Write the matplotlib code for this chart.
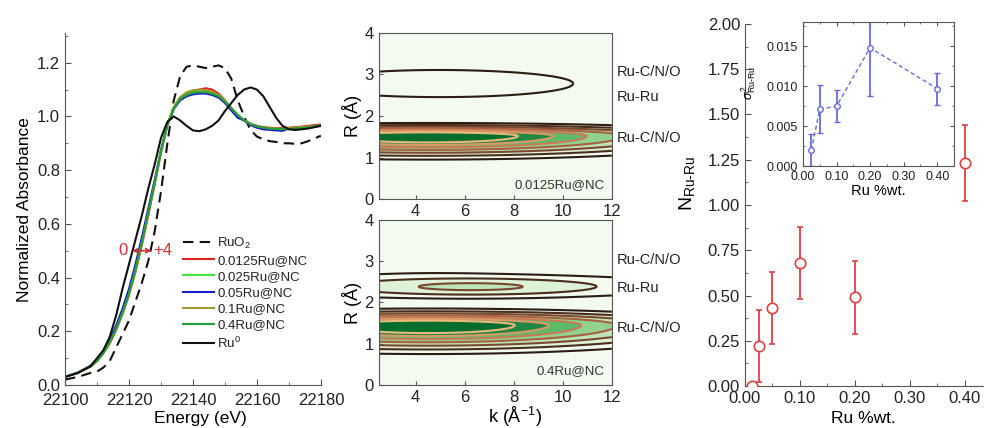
import numpy as np
import matplotlib.pyplot as plt
from matplotlib.ticker import MultipleLocator, FormatStrFormatter
from matplotlib.colors import ListedColormap

plt.rcParams['font.family'] = ['Liberation Sans', 'DejaVu Sans']
plt.rcParams['mathtext.fontset'] = 'custom'
plt.rcParams['mathtext.rm'] = 'Liberation Sans'
plt.rcParams['mathtext.it'] = 'Liberation Sans:italic'
plt.rcParams['text.color'] = '#222222'
plt.rcParams['axes.edgecolor'] = '#555555'
plt.rcParams['xtick.color'] = '#555555'
plt.rcParams['ytick.color'] = '#555555'
plt.rcParams['xtick.labelcolor'] = '#222222'
plt.rcParams['ytick.labelcolor'] = '#222222'

# --- XANES, Ru K-edge ---
energy = [22100, 22104, 22108, 22110, 22112, 22114, 22116, 22118, 22120, 22122,
          22124, 22126, 22128, 22130, 22132, 22134, 22136, 22138, 22140, 22142,
          22144, 22146, 22148, 22150, 22152, 22154, 22156, 22158, 22160, 22162,
          22164, 22166, 22168, 22170, 22172, 22174, 22176, 22178, 22180]
ruo2 = [0.020, 0.030, 0.045, 0.050, 0.065, 0.090, 0.140, 0.190, 0.240, 0.310,
        0.380, 0.460, 0.570, 0.720, 0.900, 1.060, 1.150, 1.185, 1.190, 1.185,
        1.180, 1.185, 1.190, 1.180, 1.140, 1.060, 1.000, 0.950, 0.925, 0.915,
        0.908, 0.905, 0.900, 0.900, 0.898, 0.900, 0.908, 0.918, 0.928]
ru_0125 = [0.030, 0.045, 0.068, 0.088, 0.118, 0.155, 0.205, 0.265, 0.335, 0.420,
           0.520, 0.630, 0.745, 0.865, 0.965, 1.030, 1.068, 1.085, 1.095, 1.100,
           1.105, 1.100, 1.085, 1.060, 1.030, 1.005, 0.985, 0.972, 0.965, 0.960,
           0.958, 0.956, 0.957, 0.958, 0.960, 0.962, 0.965, 0.968, 0.970]
ru_025 = [0.030, 0.045, 0.070, 0.090, 0.120, 0.160, 0.210, 0.270, 0.340, 0.430,
          0.530, 0.640, 0.750, 0.870, 0.968, 1.030, 1.065, 1.082, 1.090, 1.092,
          1.092, 1.088, 1.078, 1.056, 1.030, 1.005, 0.985, 0.972, 0.963, 0.958,
          0.955, 0.953, 0.953, 0.955, 0.957, 0.958, 0.961, 0.963, 0.966]
ru_05 = [0.030, 0.046, 0.072, 0.095, 0.125, 0.168, 0.222, 0.285, 0.358, 0.448,
         0.548, 0.655, 0.762, 0.875, 0.970, 1.028, 1.060, 1.075, 1.082, 1.085,
         1.085, 1.080, 1.070, 1.050, 1.022, 0.995, 0.985, 0.968, 0.958, 0.952,
         0.950, 0.948, 0.946, 0.955, 0.950, 0.956, 0.958, 0.962, 0.965]
ru_1 = [0.030, 0.045, 0.069, 0.089, 0.119, 0.158, 0.208, 0.268, 0.338, 0.428,
        0.528, 0.638, 0.750, 0.870, 0.970, 1.035, 1.072, 1.090, 1.098, 1.100,
        1.098, 1.092, 1.080, 1.058, 1.032, 1.006, 0.986, 0.972, 0.964, 0.959,
        0.956, 0.955, 0.955, 0.957, 0.958, 0.960, 0.962, 0.965, 0.967]
ru_4 = [0.030, 0.045, 0.070, 0.090, 0.120, 0.160, 0.210, 0.270, 0.340, 0.430,
        0.530, 0.640, 0.750, 0.870, 0.970, 1.030, 1.065, 1.080, 1.088, 1.090,
        1.090, 1.085, 1.075, 1.055, 1.030, 1.005, 0.985, 0.972, 0.963, 0.958,
        0.955, 0.953, 0.952, 0.953, 0.955, 0.957, 0.960, 0.963, 0.966]
ru_metal = [0.030, 0.045, 0.070, 0.100, 0.130, 0.180, 0.260, 0.360, 0.450, 0.540,
            0.630, 0.730, 0.820, 0.920, 0.980, 1.000, 0.985, 0.965, 0.948, 0.945,
            0.952, 0.965, 0.985, 1.020, 1.050, 1.080, 1.100, 1.108, 1.100, 1.075,
            1.035, 0.995, 0.965, 0.952, 0.950, 0.952, 0.955, 0.960, 0.965]

sample_names = ['0.0125Ru@NC', '0.025Ru@NC', '0.05Ru@NC', '0.1Ru@NC', '0.4Ru@NC']
sample_curves = [ru_0125, ru_025, ru_05, ru_1, ru_4]
sample_colors = ['#e3241c', '#3ee83a', '#1d1dc8', '#9c9a2e', '#22a03a']

# --- wavelet transform maxima: amplitude, k centre, R centre, k width, R width below / above ---
wt_top_amp = [1.00, 0.090, 0.025, 0.040]
wt_top_k = [4.5, 5.0, 3.5, 9.5]
wt_top_r = [1.52, 2.78, 3.38, 3.90]
wt_top_sk = [5.5, 5.0, 2.5, 2.0]
wt_top_slo = [0.233, 0.30, 0.10, 0.10]
wt_top_shi = [0.127, 0.30, 0.10, 0.10]

wt_bot_amp = [1.00, 0.18, 0.075, 0.045]
wt_bot_k = [4.5, 6.3, 5.0, 4.0]
wt_bot_r = [1.45, 2.38, 2.40, 3.10]
wt_bot_sk = [5.3, 3.3, 12.0, 3.0]
wt_bot_slo = [0.286, 0.14, 0.22, 0.25]
wt_bot_shi = [0.163, 0.14, 0.22, 0.25]

# --- coordination numbers ---
ru_wt = [0.0125, 0.025, 0.05, 0.10, 0.20, 0.40]
n_ruru = [0.00, 0.22, 0.43, 0.68, 0.49, 1.23]
n_err = [0.0, 0.20, 0.20, 0.20, 0.20, 0.21]

ru_wt_in = [0.025, 0.05, 0.10, 0.20, 0.40]
sigma2 = [0.0020, 0.0071, 0.0075, 0.0148, 0.0097]
sigma2_err = [0.0020, 0.0030, 0.0020, 0.0060, 0.0020]

fig = plt.figure(figsize=(9.84, 4.28), dpi=100)

# XANES panel
ax1 = fig.add_axes([0.0661, 0.1005, 0.260, 0.822])
ax1.plot(energy, ruo2, color='#111111', lw=1.5, dashes=(5, 3), label='RuO$_2$')
for name, curve, col in zip(sample_names, sample_curves, sample_colors):
    ax1.plot(energy, curve, color=col, lw=1.5, label=name)
ax1.plot(energy, ru_metal, color='#111111', lw=1.5, label='Ru$^0$')
ax1.annotate('', xy=(22127, 0.5), xytext=(22121, 0.5),
             arrowprops=dict(arrowstyle='<->', color='#d03030', lw=1.2,
                             mutation_scale=7, shrinkA=0, shrinkB=0))
ax1.text(22118, 0.5, '0', color='#d03030', fontsize=12, ha='center', va='center')
ax1.text(22130.6, 0.5, '+4', color='#d03030', fontsize=12, ha='center', va='center')
ax1.set_xlim(22100, 22180)
ax1.set_ylim(0, 1.31)
ax1.xaxis.set_major_locator(MultipleLocator(20))
ax1.xaxis.set_minor_locator(MultipleLocator(10))
ax1.yaxis.set_major_locator(MultipleLocator(0.2))
ax1.yaxis.set_minor_locator(MultipleLocator(0.1))
ax1.yaxis.set_major_formatter(FormatStrFormatter('%.1f'))
ax1.spines['top'].set_visible(False)
ax1.spines['right'].set_visible(False)
ax1.tick_params(which='both', direction='in', labelsize=12)
ax1.tick_params(which='major', length=4)
ax1.tick_params(which='minor', length=2.5)
ax1.tick_params(axis='x', pad=6)
ax1.set_xlabel('Energy (eV)', fontsize=12.5, labelpad=0)
ax1.xaxis.set_label_coords(0.53, -0.075)
ax1.set_ylabel('Normalized Absorbance', fontsize=12.5)
ax1.legend(loc='upper left', bbox_to_anchor=(0.46, 0.425), frameon=False,
           fontsize=9.5, handlelength=2.4, handletextpad=0.2, labelspacing=0.3,
           borderpad=0, borderaxespad=0)

# wavelet transform panels
kk = np.linspace(2.5, 12, 300)
rr = np.linspace(0, 4, 300)
K, R = np.meshgrid(kk, rr)

fill_levels = [0, 0.02, 0.05, 0.12, 0.22, 0.35, 0.5, 0.65, 0.8, 1.05]
fill_cmap = ListedColormap(plt.cm.Greens([0.03, 0.16, 0.28, 0.42, 0.55, 0.66,
                                          0.76, 0.87, 1.0]))
line_levels = [0.05, 0.12, 0.22, 0.35, 0.5, 0.65, 0.8]
line_colors = ['#2b1d14', '#4a2e1c', '#7a4830', '#a86040', '#c87a56',
               '#dc9868', '#e8b87c']


def wt_map(amp, kc, rc, sk, slo, shi):
    z = np.zeros_like(K)
    for a, k0, r0, s, lo, hi in zip(amp, kc, rc, sk, slo, shi):
        sr = np.where(R < r0, lo, hi)
        z += a * np.exp(-0.5 * ((K - k0) / s) ** 2 - 0.5 * ((R - r0) / sr) ** 2)
    return z


panels = [
    ([0.385, 0.535, 0.2368, 0.388], wt_map(wt_top_amp, wt_top_k, wt_top_r, wt_top_sk, wt_top_slo, wt_top_shi),
     '0.0125Ru@NC', [3.06, 2.46, 1.47]),
    ([0.385, 0.1005, 0.2368, 0.3855], wt_map(wt_bot_amp, wt_bot_k, wt_bot_r, wt_bot_sk, wt_bot_slo, wt_bot_shi),
     '0.4Ru@NC', [3.03, 2.35, 1.38]),
]
for i, (rect, z, name, label_r) in enumerate(panels):
    ax = fig.add_axes(rect)
    ax.contourf(K, R, z, levels=fill_levels, cmap=fill_cmap)
    ax.contour(K, R, z, levels=line_levels, colors=line_colors, linewidths=1.5)
    ax.set_xlim(2.5, 12)
    ax.set_ylim(0, 4)
    ax.xaxis.set_major_locator(MultipleLocator(2))
    ax.yaxis.set_major_locator(MultipleLocator(1))
    ax.tick_params(direction='in', labelsize=12, length=3)
    ax.set_ylabel('R (Å)', fontsize=13, labelpad=2)
    ax.text(0.97, 0.05, name, transform=ax.transAxes, ha='right', va='bottom',
            fontsize=9.5, color='#333333')
    for lab, r in zip(['Ru-C/N/O', 'Ru-Ru', 'Ru-C/N/O'], label_r):
        ax.text(12.2, r, lab, fontsize=10.5, ha='left', va='center', clip_on=False)
    if i == 1:
        ax.set_xlabel('k (Å$^{-1}$)', fontsize=13, labelpad=0)
        ax.xaxis.set_label_coords(0.584, -0.12)

# coordination number panel
ax3 = fig.add_axes([0.757, 0.098, 0.243, 0.846])
ax3.errorbar(ru_wt, n_ruru, yerr=n_err, fmt='o', ms=7.5, mfc='white', mec='#e04040',
             mew=1.2, ecolor='#e04040', elinewidth=1.3, capsize=2.5, capthick=1.3,
             zorder=3)
ax3.set_xlim(0, 0.435)
ax3.set_ylim(0, 2.0)
ax3.xaxis.set_major_locator(MultipleLocator(0.1))
ax3.xaxis.set_minor_locator(MultipleLocator(0.05))
ax3.yaxis.set_major_locator(MultipleLocator(0.25))
ax3.yaxis.set_minor_locator(MultipleLocator(0.125))
ax3.xaxis.set_major_formatter(FormatStrFormatter('%.2f'))
ax3.yaxis.set_major_formatter(FormatStrFormatter('%.2f'))
ax3.spines['top'].set_visible(False)
ax3.spines['right'].set_visible(False)
ax3.tick_params(which='both', direction='in', labelsize=12)
ax3.tick_params(which='major', length=4)
ax3.tick_params(which='minor', length=2.5)
ax3.set_xlabel('Ru %wt.', fontsize=12.5, labelpad=0)
ax3.xaxis.set_label_coords(0.496, -0.07)
ax3.set_ylabel(r'N$_{\text{Ru-Ru}}$', fontsize=14)
ax3.yaxis.set_label_coords(-0.2, 0.56)

# Debye-Waller inset
ax4 = fig.add_axes([0.816, 0.612, 0.1535, 0.336])
ax4.errorbar(ru_wt_in, sigma2, yerr=sigma2_err, fmt='o', ms=4, mfc='white',
             mec='#6a6ae0', mew=1.0, ecolor='#6a6ae0', elinewidth=1.3, capsize=2.5,
             capthick=1.3, ls=(0, (3, 2)), color='#6a6ae0', lw=1.0)
ax4.set_xlim(0, 0.45)
ax4.set_ylim(0, 0.018)
ax4.xaxis.set_major_locator(MultipleLocator(0.1))
ax4.xaxis.set_minor_locator(MultipleLocator(0.05))
ax4.yaxis.set_major_locator(MultipleLocator(0.005))
ax4.yaxis.set_minor_locator(MultipleLocator(0.0025))
ax4.xaxis.set_major_formatter(FormatStrFormatter('%.2f'))
ax4.yaxis.set_major_formatter(FormatStrFormatter('%.3f'))
ax4.tick_params(which='both', direction='in', top=True, right=True, labelsize=9)
ax4.tick_params(which='major', length=3)
ax4.tick_params(which='minor', length=1.5)
ax4.set_xlabel('Ru %wt.', fontsize=10.5, labelpad=1)
ax4.set_ylabel(r'$\sigma^2_{\text{Ru-Ru}}$', fontsize=9)
ax4.yaxis.set_label_coords(-0.3, 0.58)

fig.savefig('out.png', dpi=100)
